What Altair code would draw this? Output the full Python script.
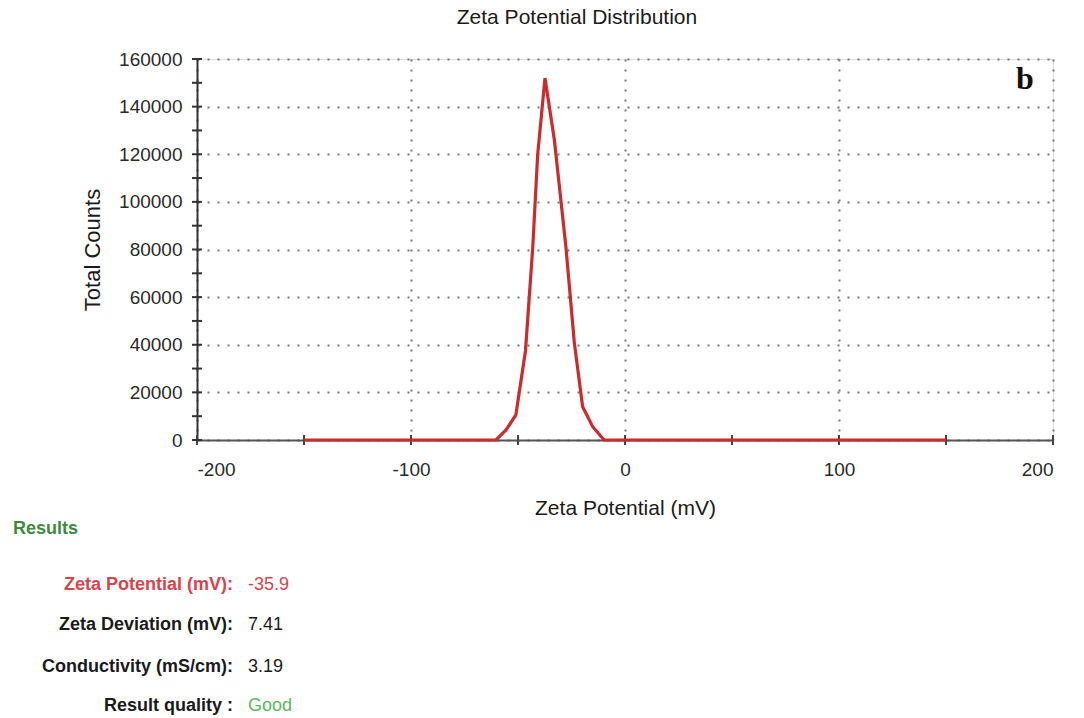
import altair as alt
import pandas as pd

# Zeta potential distribution curve (mV vs total counts)
zeta_mv = [-150, -60.3, -55.6, -51.0, -46.5, -43.1, -40.8, -37.4, -33.0,
           -27.6, -23.7, -19.8, -15.1, -9.8, 150]
total_counts = [0, 0, 4200, 10500, 37500, 81000, 120000, 152000, 126000,
                81000, 41000, 14000, 5600, 0, 0]

# Axis tick positions (major ticks carry labels and grid lines)
x_major = [-200, -100, 0, 100, 200]
x_minor = [-200, -150, -100, -50, 0, 50, 100, 150, 200]
y_major = [0, 20000, 40000, 60000, 80000, 100000, 120000, 140000, 160000]
y_minor = [0, 10000, 20000, 30000, 40000, 50000, 60000, 70000, 80000,
           90000, 100000, 110000, 120000, 130000, 140000, 150000, 160000]

# Results panel
result_labels = ["Zeta Potential (mV):", "Zeta Deviation (mV):",
                 "Conductivity (mS/cm):", "Result quality :"]
result_values = ["-35.9", "7.41", "3.19", "Good"]
label_colors = ["#d9434b", "#1a1a1a", "#1a1a1a", "#1a1a1a"]
value_colors = ["#d9434b", "#1a1a1a", "#1a1a1a", "#5cb85c"]

W, H = 856, 381
FONT = "Liberation Sans"

x_scale = alt.Scale(domain=[-200, 200], nice=False, zero=False)
y_scale = alt.Scale(domain=[0, 160000], nice=False)

curve = pd.DataFrame({"zeta": zeta_mv, "counts": total_counts})

line = alt.Chart(curve).mark_line(color="#cc2b2b", strokeWidth=3.2).encode(
    x=alt.X("zeta:Q", scale=x_scale,
            axis=alt.Axis(values=x_major, title="Zeta Potential (mV)",
                          labelExpr="'' + datum.value",
                          labelFontSize=19, labelFont=FONT, labelColor="#2a2a2a",
                          labelPadding=20, tickSize=0,
                          titleFontSize=21, titleFont=FONT, titleFontWeight="normal",
                          titleColor="#1a1a1a", titlePadding=18,
                          domainColor="#555555", domainWidth=2,
                          grid=True, gridDash=[2, 8], gridColor="#777777",
                          gridWidth=2)),
    y=alt.Y("counts:Q", scale=y_scale,
            axis=alt.Axis(values=y_major, format="d", title="Total Counts",
                          labelFontSize=19, labelFont=FONT, labelColor="#2a2a2a",
                          labelPadding=15, tickSize=0,
                          titleFontSize=22, titleFont=FONT, titleFontWeight="normal",
                          titleColor="#1a1a1a", titlePadding=14,
                          domainColor="#333333", domainWidth=2,
                          grid=True, gridDash=[2, 8], gridColor="#777777",
                          gridWidth=2)),
)

# Tick marks that cross the axis lines
x_ticks = alt.Chart(pd.DataFrame({"zeta": x_minor})).mark_rule(
    color="#444444", strokeWidth=2).encode(
    x=alt.X("zeta:Q", scale=x_scale),
    y=alt.value(H - 5), y2=alt.value(H + 5))

y_ticks = alt.Chart(pd.DataFrame({"counts": y_minor})).mark_rule(
    color="#333333", strokeWidth=2).encode(
    y=alt.Y("counts:Q", scale=y_scale),
    x=alt.value(-5), x2=alt.value(5))

panel_letter = alt.Chart(pd.DataFrame({"t": ["b"]})).mark_text(
    font="Liberation Serif", fontWeight="bold", fontSize=32, color="#111111",
    align="center", baseline="alphabetic").encode(
    text="t:N", x=alt.value(828), y=alt.value(30))

results_head = alt.Chart(pd.DataFrame({"t": ["Results"]})).mark_text(
    font=FONT, fontWeight="bold", fontSize=18, color="#3c8c3c",
    align="left", baseline="middle").encode(
    text="t:N", x=alt.value(13 - 197), y=alt.value(529 - 59))

row_y = [585, 625, 667, 706]
result_layers = []
for lab, val, lc, vc, ry in zip(result_labels, result_values,
                                label_colors, value_colors, row_y):
    result_layers.append(
        alt.Chart(pd.DataFrame({"t": [lab]})).mark_text(
            font=FONT, fontWeight="bold", fontSize=18, color=lc,
            align="right", baseline="middle").encode(
            text="t:N", x=alt.value(233 - 197), y=alt.value(ry - 59)))
    result_layers.append(
        alt.Chart(pd.DataFrame({"t": [val]})).mark_text(
            font=FONT, fontSize=18, color=vc,
            align="left", baseline="middle").encode(
            text="t:N", x=alt.value(248 - 197), y=alt.value(ry - 59)))

chart = alt.layer(
    x_ticks, y_ticks, line, panel_letter, results_head, *result_layers
).properties(
    width=W, height=H,
    title=alt.TitleParams("Zeta Potential Distribution", fontSize=21, font=FONT,
                          fontWeight="normal", color="#1a1a1a", anchor="middle",
                          dx=-48, offset=22),
    autosize=alt.AutoSizeParams(type="none"),
    padding={"left": 197, "top": 59, "right": 31, "bottom": 278},
).configure_view(stroke=None).configure(background="white")

chart.save("out.html", embed_options={"renderer": "svg", "actions": False})
